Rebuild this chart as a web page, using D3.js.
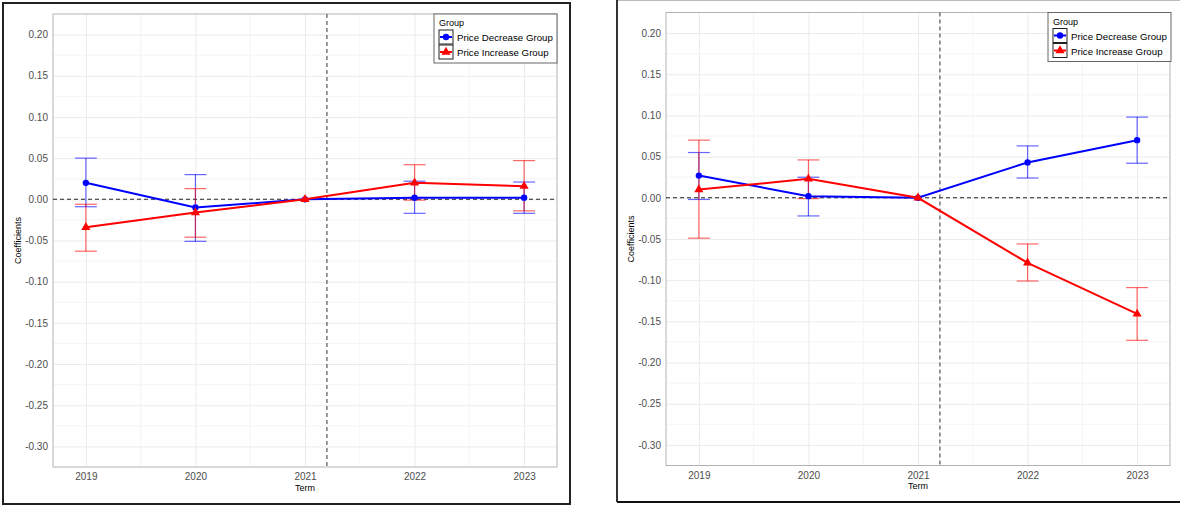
<!DOCTYPE html>
<html>
<head>
<meta charset="utf-8">
<script src="https://cdn.jsdelivr.net/npm/d3@7"></script>
<style>
  body { margin: 0; background: #fff; }
  svg { display: block; font-family: "Liberation Sans", Arial, sans-serif; }
</style>
</head>
<body>
<svg id="chart" width="1180" height="506"></svg>
<script>
// shared axis values
const terms = [2019, 2020, 2021, 2022, 2023];
const yTicks = [0.20, 0.15, 0.10, 0.05, 0.00, -0.05, -0.10, -0.15, -0.20, -0.25, -0.30];
const groups = ['Price Decrease Group', 'Price Increase Group'];
const policyTerm = 2021.2;

// left chart
const leftDecrease   = [0.020, -0.010, 0, 0.002, 0.002];
const leftDecreaseLo = [-0.009, -0.051, 0, -0.017, -0.017];
const leftDecreaseHi = [0.050, 0.030, 0, 0.022, 0.021];
const leftIncrease   = [-0.034, -0.016, 0, 0.020, 0.016];
const leftIncreaseLo = [-0.063, -0.046, 0, -0.001, -0.014];
const leftIncreaseHi = [-0.006, 0.013, 0, 0.042, 0.047];

// right chart
const rightDecrease   = [0.027, 0.002, 0, 0.043, 0.070];
const rightDecreaseLo = [-0.002, -0.022, 0, 0.024, 0.042];
const rightDecreaseHi = [0.055, 0.025, 0, 0.063, 0.098];
const rightIncrease   = [0.010, 0.023, 0, -0.079, -0.141];
const rightIncreaseLo = [-0.049, -0.001, 0, -0.101, -0.173];
const rightIncreaseHi = [0.070, 0.046, 0, -0.056, -0.109];

const colors = ['#0000ff', '#ff0000'];
const svg = d3.select('#chart');

function drawPanel(cfg, series) {
    const x = d3.scaleLinear().domain([2018.7, 2023.3]).range([cfg.x0, cfg.x1]);
    const y = d3.scaleLinear().domain([-0.325, 0.225]).range([cfg.y1, cfg.y0]);
    const g = svg.append('g');

    // minor grid
    const minorX = [2019.5, 2020.5, 2021.5, 2022.5];
    const minorY = d3.range(-0.275, 0.2, 0.05);
    g.selectAll('.mx').data(minorX).join('line')
        .attr('x1', d => x(d)).attr('x2', d => x(d))
        .attr('y1', cfg.y0).attr('y2', cfg.y1)
        .attr('stroke', '#f3f3f3').attr('stroke-width', 0.8);
    g.selectAll('.my').data(minorY).join('line')
        .attr('x1', cfg.x0).attr('x2', cfg.x1)
        .attr('y1', d => y(d)).attr('y2', d => y(d))
        .attr('stroke', '#f3f3f3').attr('stroke-width', 0.8);

    // major grid via axes
    g.append('g')
        .attr('transform', `translate(0,${cfg.y1})`)
        .call(d3.axisBottom(x).tickValues(terms).tickFormat(d3.format('d'))
            .tickSize(-(cfg.y1 - cfg.y0)).tickPadding(6))
        .call(a => a.select('.domain').remove())
        .call(a => a.selectAll('line').attr('stroke', '#ebebeb'))
        .call(a => a.selectAll('text').attr('fill', '#4d4d4d')
            .attr('font-size', 10).attr('font-family', '"Liberation Sans", Arial, sans-serif'));
    g.append('g')
        .attr('transform', `translate(${cfg.x0},0)`)
        .call(d3.axisLeft(y).tickValues(yTicks).tickFormat(d3.format('.2f'))
            .tickSize(-(cfg.x1 - cfg.x0)).tickPadding(5))
        .call(a => a.select('.domain').remove())
        .call(a => a.selectAll('line').attr('stroke', '#ebebeb'))
        .call(a => a.selectAll('text').attr('fill', '#4d4d4d')
            .attr('font-size', 10).attr('font-family', '"Liberation Sans", Arial, sans-serif')
            .text(d => d3.format('.2f')(d).replace('−', '-')));

    // panel border
    g.append('rect')
        .attr('x', cfg.x0).attr('y', cfg.y0)
        .attr('width', cfg.x1 - cfg.x0).attr('height', cfg.y1 - cfg.y0)
        .attr('fill', 'none').attr('stroke', '#b3b3b3').attr('stroke-width', 1);

    // reference lines
    g.append('line')
        .attr('x1', cfg.x0).attr('x2', cfg.x1).attr('y1', y(0)).attr('y2', y(0))
        .attr('stroke', '#222').attr('stroke-width', 1.1).attr('stroke-dasharray', '4,3');
    g.append('line')
        .attr('x1', x(policyTerm)).attr('x2', x(policyTerm)).attr('y1', cfg.y0).attr('y2', cfg.y1)
        .attr('stroke', '#555').attr('stroke-width', 1.2).attr('stroke-dasharray', '4,3');

    const capHalf = (x(2019.1) - x(2019));
    series.forEach((s, i) => {
        const rows = terms.map((t, k) => ({ t, v: s.v[k], lo: s.lo[k], hi: s.hi[k] }));
        const eg = g.append('g').attr('stroke', colors[i]).attr('stroke-opacity', 0.6).attr('stroke-width', 1.2);
        rows.filter(d => d.hi !== d.lo).forEach(d => {
            eg.append('line').attr('x1', x(d.t)).attr('x2', x(d.t)).attr('y1', y(d.lo)).attr('y2', y(d.hi));
            eg.append('line').attr('x1', x(d.t) - capHalf).attr('x2', x(d.t) + capHalf).attr('y1', y(d.lo)).attr('y2', y(d.lo));
            eg.append('line').attr('x1', x(d.t) - capHalf).attr('x2', x(d.t) + capHalf).attr('y1', y(d.hi)).attr('y2', y(d.hi));
        });
    });
    series.forEach((s, i) => {
        const rows = terms.map((t, k) => ({ t, v: s.v[k] }));
        g.append('path').datum(rows)
            .attr('fill', 'none').attr('stroke', colors[i]).attr('stroke-width', 2)
            .attr('d', d3.line().x(d => x(d.t)).y(d => y(d.v)));
        const sym = d3.symbol().type(i === 0 ? d3.symbolCircle : d3.symbolTriangle).size(i === 0 ? 32 : 36);
        g.selectAll(null).data(rows).join('path')
            .attr('transform', d => `translate(${x(d.t)},${y(d.v)})`)
            .attr('d', sym).attr('fill', colors[i]);
    });

    // axis titles
    g.append('text')
        .attr('transform', `translate(${cfg.ylabX},${(cfg.y0 + cfg.y1) / 2}) rotate(-90)`)
        .attr('text-anchor', 'middle').attr('font-size', 9).attr('fill', '#000')
        .text('Coefficients');
    g.append('text')
        .attr('x', (cfg.x0 + cfg.x1) / 2).attr('y', cfg.termY)
        .attr('text-anchor', 'middle').attr('font-size', 9).attr('fill', '#000')
        .text('Term');

    // legend
    const lg = g.append('g').attr('transform', `translate(${cfg.legX},${cfg.legY})`);
    lg.append('rect').attr('width', 123).attr('height', 49)
        .attr('fill', '#fff').attr('stroke', '#666').attr('stroke-width', 1);
    lg.append('text').attr('x', 5).attr('y', 12).attr('font-size', 9).attr('fill', '#000').text('Group');
    groups.forEach((name, i) => {
        const ky = 16 + i * 15;
        lg.append('rect').attr('x', 5).attr('y', ky).attr('width', 14).attr('height', 14)
            .attr('fill', '#fff').attr('stroke', '#222').attr('stroke-width', 1);
        lg.append('line').attr('x1', 6).attr('x2', 18).attr('y1', ky + 7).attr('y2', ky + 7)
            .attr('stroke', colors[i]).attr('stroke-width', 2);
        lg.append('path').attr('transform', `translate(12,${ky + 7})`)
            .attr('d', d3.symbol().type(i === 0 ? d3.symbolCircle : d3.symbolTriangle).size(i === 0 ? 32 : 36))
            .attr('fill', colors[i]);
        lg.append('text').attr('x', 23).attr('y', ky + 11).attr('font-size', 9.7).attr('fill', '#000').text(name);
    });
}

// outer frames
svg.append('rect').attr('x', 3).attr('y', 3).attr('width', 567).attr('height', 501)
    .attr('fill', 'none').attr('stroke', '#222').attr('stroke-width', 2);
svg.append('line').attr('x1', 617).attr('x2', 1180).attr('y1', 0.5).attr('y2', 0.5)
    .attr('stroke', '#bbb').attr('stroke-width', 1);
svg.append('line').attr('x1', 617).attr('x2', 617).attr('y1', 0).attr('y2', 502)
    .attr('stroke', '#333').attr('stroke-width', 2);
svg.append('line').attr('x1', 617).attr('x2', 1180).attr('y1', 502).attr('y2', 502)
    .attr('stroke', '#111').attr('stroke-width', 2);

drawPanel({ x0: 53, x1: 557, y0: 14, y1: 467, ylabX: 21, termY: 491, legX: 434, legY: 14 }, [
    { v: leftDecrease, lo: leftDecreaseLo, hi: leftDecreaseHi },
    { v: leftIncrease, lo: leftIncreaseLo, hi: leftIncreaseHi }
]);
drawPanel({ x0: 666, x1: 1170, y0: 12.5, y1: 465.5, ylabX: 634, termY: 489, legX: 1048, legY: 12.5 }, [
    { v: rightDecrease, lo: rightDecreaseLo, hi: rightDecreaseHi },
    { v: rightIncrease, lo: rightIncreaseLo, hi: rightIncreaseHi }
]);
</script>
</body>
</html>
